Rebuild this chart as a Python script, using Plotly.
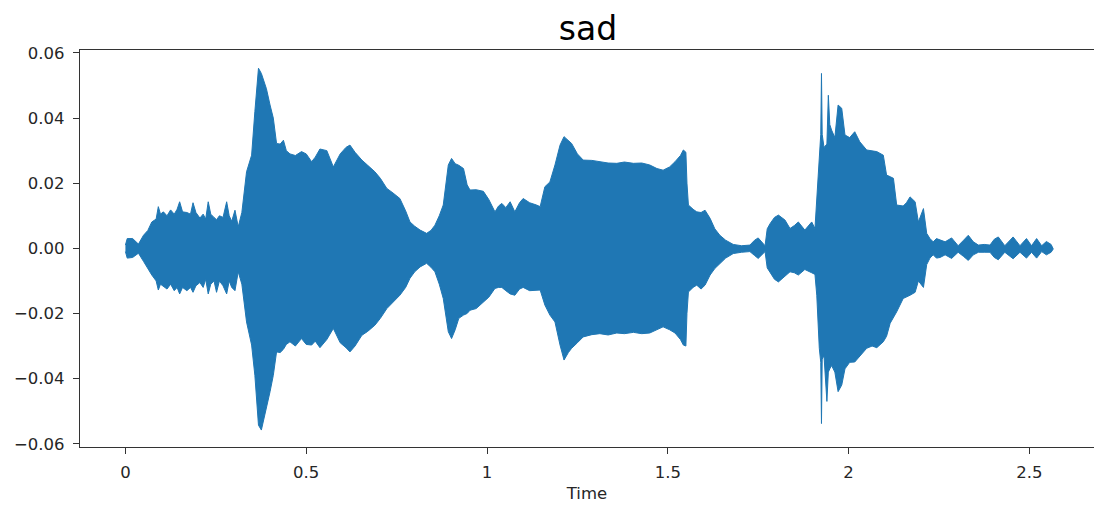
import plotly.graph_objects as go

# Envelope of the waveform (time in s, amplitude)
time_s = [0.000, 0.005, 0.020, 0.036, 0.050, 0.062, 0.073, 0.085, 0.091, 0.097,
          0.105, 0.115, 0.125, 0.135, 0.143, 0.150, 0.158, 0.170, 0.180, 0.187,
          0.195, 0.206, 0.215, 0.222, 0.229, 0.236, 0.245, 0.252, 0.260, 0.270,
          0.280, 0.287, 0.294, 0.303, 0.312, 0.322, 0.335, 0.349, 0.358, 0.368,
          0.376, 0.390, 0.400, 0.409, 0.418, 0.428, 0.437, 0.445, 0.455, 0.470,
          0.487, 0.500, 0.515, 0.525, 0.538, 0.557, 0.575, 0.594, 0.610, 0.621,
          0.635, 0.654, 0.670, 0.690, 0.705, 0.723, 0.740, 0.759, 0.775, 0.787,
          0.800, 0.815, 0.833, 0.845, 0.856, 0.868, 0.879, 0.886, 0.893, 0.902,
          0.912, 0.922, 0.935, 0.945, 0.953, 0.970, 0.990, 1.005, 1.022, 1.032,
          1.041, 1.052, 1.064, 1.077, 1.090, 1.100, 1.118, 1.137, 1.147, 1.160,
          1.174, 1.188, 1.202, 1.213, 1.225, 1.234, 1.250, 1.266, 1.290, 1.312,
          1.335, 1.359, 1.380, 1.405, 1.428, 1.450, 1.470, 1.487, 1.505, 1.520,
          1.535, 1.543, 1.550, 1.553, 1.557, 1.570, 1.580, 1.592, 1.603, 1.617,
          1.630, 1.644, 1.660, 1.681, 1.704, 1.727, 1.740, 1.750, 1.760, 1.769,
          1.775, 1.783, 1.795, 1.806, 1.824, 1.838, 1.850, 1.861, 1.879, 1.898,
          1.907, 1.912, 1.919, 1.923, 1.925, 1.927, 1.932, 1.940, 1.944, 1.948,
          1.953, 1.962, 1.971, 1.981, 1.990, 2.003, 2.017, 2.031, 2.050, 2.065,
          2.078, 2.096, 2.105, 2.115, 2.124, 2.133, 2.151, 2.160, 2.170, 2.184,
          2.193, 2.207, 2.212, 2.216, 2.225, 2.234, 2.243, 2.253, 2.267, 2.285,
          2.303, 2.318, 2.331, 2.345, 2.359, 2.375, 2.391, 2.403, 2.414, 2.432,
          2.455, 2.474, 2.492, 2.506, 2.520, 2.534, 2.547, 2.560, 2.566]

upper = [0.0010, 0.0030, 0.0030, 0.0013, 0.0040, 0.0055, 0.0081, 0.0090, 0.0128, 0.0105,
         0.0112, 0.0100, 0.0118, 0.0105, 0.0120, 0.0143, 0.0112, 0.0110, 0.0105, 0.0140,
         0.0110, 0.0093, 0.0105, 0.0090, 0.0143, 0.0105, 0.0095, 0.0088, 0.0100, 0.0095,
         0.0143, 0.0100, 0.0083, 0.0117, 0.0066, 0.0110, 0.0235, 0.0286, 0.0420, 0.0553,
         0.0537, 0.0490, 0.0440, 0.0400, 0.0322, 0.0320, 0.0332, 0.0300, 0.0290, 0.0285,
         0.0297, 0.0290, 0.0266, 0.0280, 0.0305, 0.0300, 0.0250, 0.0290, 0.0310, 0.0317,
         0.0295, 0.0271, 0.0255, 0.0235, 0.0215, 0.0184, 0.0170, 0.0153, 0.0115, 0.0081,
         0.0068, 0.0056, 0.0046, 0.0055, 0.0071, 0.0100, 0.0133, 0.0200, 0.0256, 0.0276,
         0.0260, 0.0255, 0.0245, 0.0195, 0.0179, 0.0180, 0.0175, 0.0150, 0.0112, 0.0130,
         0.0138, 0.0125, 0.0143, 0.0112, 0.0140, 0.0153, 0.0140, 0.0133, 0.0128, 0.0189,
         0.0204, 0.0256, 0.0317, 0.0343, 0.0330, 0.0322, 0.0290, 0.0271, 0.0270, 0.0266,
         0.0262, 0.0261, 0.0265, 0.0261, 0.0262, 0.0256, 0.0245, 0.0240, 0.0250, 0.0266,
         0.0285, 0.0302, 0.0295, 0.0200, 0.0133, 0.0120, 0.0112, 0.0110, 0.0117, 0.0092,
         0.0060, 0.0040, 0.0025, 0.0012, 0.0008, 0.0010, 0.0025, 0.0032, 0.0020, 0.0008,
         0.0060, 0.0076, 0.0095, 0.0102, 0.0087, 0.0061, 0.0070, 0.0081, 0.0056, 0.0081,
         0.0061, 0.0163, 0.0307, 0.0350, 0.0537, 0.0350, 0.0310, 0.0320, 0.0470, 0.0380,
         0.0363, 0.0340, 0.0440, 0.0430, 0.0348, 0.0340, 0.0358, 0.0327, 0.0302, 0.0300,
         0.0297, 0.0286, 0.0225, 0.0220, 0.0215, 0.0133, 0.0130, 0.0140, 0.0158, 0.0143,
         0.0081, 0.0122, 0.0080, 0.0046, 0.0030, 0.0020, 0.0030, 0.0025, 0.0020, 0.0032,
         0.0008, 0.0025, 0.0040, 0.0020, 0.0010, 0.0012, 0.0010, 0.0028, 0.0035, 0.0008,
         0.0035, 0.0008, 0.0030, 0.0008, 0.0030, 0.0008, 0.0021, 0.0012, 0.0002]

lower = [-0.0010, -0.0030, -0.0028, -0.0015, -0.0040, -0.0060, -0.0082, -0.0100, -0.0128, -0.0110,
         -0.0115, -0.0125, -0.0110, -0.0130, -0.0120, -0.0140, -0.0120, -0.0130, -0.0120, -0.0135,
         -0.0115, -0.0105, -0.0120, -0.0095, -0.0140, -0.0110, -0.0100, -0.0135, -0.0100, -0.0115,
         -0.0140, -0.0100, -0.0120, -0.0130, -0.0072, -0.0110, -0.0226, -0.0297, -0.0390, -0.0543,
         -0.0558, -0.0490, -0.0440, -0.0390, -0.0318, -0.0320, -0.0310, -0.0295, -0.0287, -0.0300,
         -0.0277, -0.0295, -0.0297, -0.0285, -0.0305, -0.0280, -0.0246, -0.0290, -0.0305, -0.0318,
         -0.0300, -0.0267, -0.0255, -0.0236, -0.0215, -0.0185, -0.0165, -0.0144, -0.0120, -0.0092,
         -0.0072, -0.0057, -0.0046, -0.0058, -0.0072, -0.0110, -0.0154, -0.0210, -0.0256, -0.0277,
         -0.0250, -0.0215, -0.0205, -0.0200, -0.0190, -0.0185, -0.0164, -0.0150, -0.0123, -0.0120,
         -0.0120, -0.0130, -0.0140, -0.0144, -0.0125, -0.0120, -0.0130, -0.0128, -0.0128, -0.0174,
         -0.0205, -0.0226, -0.0297, -0.0343, -0.0320, -0.0307, -0.0290, -0.0272, -0.0265, -0.0262,
         -0.0266, -0.0260, -0.0262, -0.0258, -0.0262, -0.0260, -0.0250, -0.0241, -0.0250, -0.0260,
         -0.0280, -0.0297, -0.0300, -0.0200, -0.0134, -0.0120, -0.0113, -0.0125, -0.0113, -0.0082,
         -0.0062, -0.0046, -0.0030, -0.0016, -0.0012, -0.0010, -0.0022, -0.0031, -0.0020, -0.0010,
         -0.0060, -0.0072, -0.0095, -0.0103, -0.0085, -0.0072, -0.0075, -0.0082, -0.0065, -0.0075,
         -0.0080, -0.0144, -0.0307, -0.0350, -0.0538, -0.0340, -0.0330, -0.0470, -0.0380, -0.0370,
         -0.0360, -0.0380, -0.0440, -0.0420, -0.0370, -0.0350, -0.0349, -0.0330, -0.0307, -0.0300,
         -0.0305, -0.0287, -0.0270, -0.0230, -0.0215, -0.0195, -0.0154, -0.0150, -0.0144, -0.0135,
         -0.0100, -0.0120, -0.0080, -0.0050, -0.0030, -0.0020, -0.0030, -0.0028, -0.0020, -0.0031,
         -0.0012, -0.0025, -0.0037, -0.0020, -0.0012, -0.0012, -0.0012, -0.0028, -0.0035, -0.0012,
         -0.0032, -0.0012, -0.0030, -0.0012, -0.0030, -0.0010, -0.0020, -0.0012, -0.0002]

x_ticks = [0, 0.5, 1, 1.5, 2, 2.5]
x_tick_labels = ["0", "0.5", "1", "1.5", "2", "2.5"]
y_ticks = [-0.06, -0.04, -0.02, 0.0, 0.02, 0.04, 0.06]
y_tick_labels = ["\u22120.06", "\u22120.04", "\u22120.02", "0.00", "0.02", "0.04", "0.06"]

BLUE = "#1f77b4"
FONT = "DejaVu Sans"

fig = go.Figure()
fig.add_trace(go.Scatter(
    x=time_s + time_s[::-1],
    y=upper + lower[::-1],
    mode="lines",
    fill="toself",
    fillcolor=BLUE,
    line=dict(color=BLUE, width=1),
    hoverinfo="skip",
    showlegend=False,
))

axis_common = dict(
    showgrid=False, zeroline=False, showline=True, linecolor="#333333", linewidth=1.3,
    ticks="outside", ticklen=6, tickwidth=1.2, tickcolor="#333333",
    tickfont=dict(family=FONT, size=16.5, color="#262626"),
)

fig.update_layout(
    width=1094, height=512,
    margin=dict(l=80, r=0, t=50, b=65),
    paper_bgcolor="white", plot_bgcolor="white",
    title=dict(text="sad", x=0.5375, xanchor="center", y=1 - 28 / 512, yanchor="middle",
               font=dict(family=FONT, size=33, color="#000000")),
    xaxis=dict(range=[-0.1256, 2.6787], tickvals=x_ticks, ticktext=x_tick_labels,
               mirror=True, ticklabelstandoff=4,
               title=dict(text="Time", font=dict(family=FONT, size=16.5, color="#262626"), standoff=6),
               **axis_common),
    yaxis=dict(range=[-0.0610, 0.0609], tickvals=y_ticks, ticktext=y_tick_labels,
               ticklabelstandoff=5, **axis_common),
)

fig.write_html("out.html")
